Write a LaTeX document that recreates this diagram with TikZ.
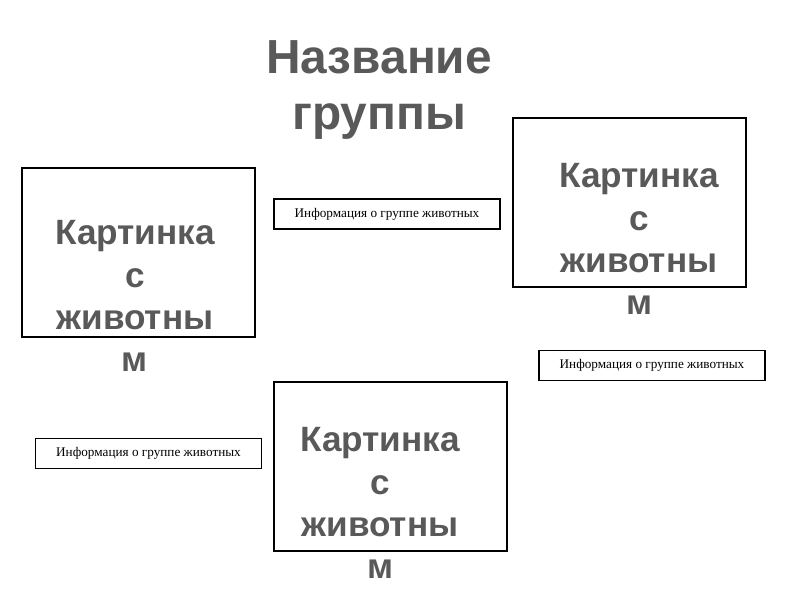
\documentclass[tikz,border=0pt]{standalone}
\usepackage{fontspec}
\setmainfont{Liberation Serif}
\newfontfamily\headfont{Liberation Sans}
\usetikzlibrary{positioning}
\definecolor{textgray}{HTML}{595959}

\begin{document}
\begin{tikzpicture}[x=0.025cm,y=-0.025cm]
\tikzset{picbox/.style={draw=black,line width=1pt,minimum width=5.825cm,minimum height=4.225cm,inner sep=0pt},
  infobox/.style={draw=black,line width=1.2pt,minimum width=5.65cm,minimum height=0.75cm,inner sep=0pt,font=\fontsize{9.4}{10}\selectfont},
  pictext/.style={align=center,text=textgray,inner sep=0pt,font=\headfont\fontsize{25}{30}\bfseries\selectfont},
  headtext/.style={align=center,text=textgray,inner sep=0pt,font=\headfont\fontsize{34}{40}\bfseries\selectfont}}
\useasboundingbox (0,0) rectangle (800,600);
% title
\node[headtext] (title) at (379,90) {Название\\группы};
% picture frames
\node[picbox] (picleft) at (138.5,252.5) {};
\node[picbox] (picright) at (629.5,202.5) {};
\node[picbox] (picbottom) at (390.5,466.5) {};
\node[pictext] (txtleft) at (135,296) {Картинка\\с\\животны\\м};
\node[pictext] (txtright) at (639,239) {Картинка\\с\\животны\\м};
\node[pictext] (txtbottom) at (380,503) {Картинка\\с\\животны\\м};
% info labels
\node[infobox] (infotop) at (387,214) {Информация о группе животных};
\node[infobox] (inforight) at (652,365.5) {Информация о группе животных};
\node[infobox] (infoleft) at (148.5,453.5) {Информация о группе животных};
\end{tikzpicture}
\end{document}
